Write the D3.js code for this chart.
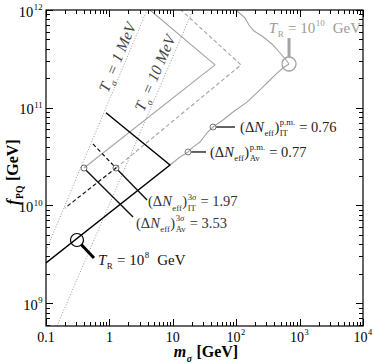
<!DOCTYPE html>
<html>
<head>
<meta charset="utf-8">
<script src="https://cdn.jsdelivr.net/npm/d3@7"></script>
<style>
  body { margin: 0; background: #fff; }
  svg { display: block; }
  text { font-family: "Liberation Serif", "DejaVu Serif", serif; }
</style>
</head>
<body>
<script>
// ---- data: [m_sigma (GeV), f_PQ (GeV)] ----
const xDomain = [0.1, 1e4];
const yDomain = [5.82e8, 1e12];
const xMajor = [0.1, 1, 10, 100, 1000, 10000];
const xMajorLabels = ['0.1', '1', '10', '10^2', '10^3', '10^4'];
const yMajor = [1e9, 1e10, 1e11, 1e12];
const yMajorLabels = ['10^9', '10^10', '10^11', '10^12'];

const tSigma1MeV = [[0.1, 3.45e9], [3.92, 1e12]];
const tSigma10MeV = [[0.149, 5.82e8], [20.8, 1e12]];

// T_R = 1e8 GeV contours (black) and their continuation (grey)
const blackSolid = [[0.1, 2.57e9], [9.04, 2.59e10], [0.884, 8.88e10]];
const blackDashed = [[0.551, 4.25e10], [1.27, 2.41e10], [0.1995, 9.40e9]];
// T_R = 1e10 GeV
const greySolid = [[0.397, 2.41e10], [46.3, 2.74e11], [4.37, 1e12]];
const greyDashed = [[1.27, 2.41e10], [119, 2.74e11], [13.5, 1e12]];
// p.m. curve
const greyCurve = [
  [9.04, 2.59e10], [13.0, 3.13e10], [17.4, 3.52e10], [20.8, 3.95e10], [26.9, 4.46e10],
  [34.6, 5.51e10], [43.1, 6.34e10], [61.9, 7.48e10], [89.0, 9.04e10], [148, 1.14e11],
  [237, 1.52e11], [341, 1.92e11], [440, 2.26e11], [547, 2.55e11], [681, 2.80e11],
  [610, 3.08e11], [491, 3.63e11], [367, 4.49e11], [255, 5.42e11], [191, 6.09e11],
  [159, 7.02e11], [138, 8.28e11], [99.3, 1e12]
];

const pmPoints = [[17.4, 3.52e10], [43.1, 6.34e10]];
const sigmaPoints = [[0.397, 2.41e10], [1.27, 2.41e10]];
const tr8Point = [0.308, 4.42e9];
const tr10Point = [681, 2.80e11];

// leaders: [from, to]
const leaderAv3 = [[0.397, 2.41e10], [2.36, 7.61e9]];
const leaderIT3 = [[1.27, 2.41e10], [3.92, 1.135e10]];
const leaderAvPm = [[17.4, 3.52e10], [33.4, 3.52e10]];
const leaderITPm = [[43.1, 6.34e10], [95.7, 6.34e10]];
const leaderTr8 = [tr8Point, [0.571, 2.89e9]];
const leaderTr10 = [tr10Point, [681, 5.16e11]];

const grey = '#a3a3a3';

const svg = d3.select('body').append('svg').attr('width', 374).attr('height', 363);

const x = d3.scaleLog().domain(xDomain).range([46, 363]);
const y = d3.scaleLog().domain(yDomain).range([326, 10]);

svg.append('defs').append('clipPath').attr('id', 'plot')
  .append('rect').attr('x', 46).attr('y', 10).attr('width', 317).attr('height', 316);

const line = d3.line().x(d => x(d[0])).y(d => y(d[1]));
const plot = svg.append('g').attr('clip-path', 'url(#plot)');

function path(data, stroke, width, dash) {
  plot.append('path')
    .attr('d', line(data))
    .attr('fill', 'none')
    .attr('stroke', stroke)
    .attr('stroke-width', width)
    .attr('stroke-linejoin', 'round')
    .attr('stroke-dasharray', dash || null);
}

path(tSigma1MeV, '#8c8c8c', 0.9, '1,1.8');
path(tSigma10MeV, '#8c8c8c', 0.9, '1,1.8');
path(greySolid, grey, 1.1);
path(greyDashed, grey, 1.1, '4,2.5');
path(greyCurve, grey, 1.1);
path(blackDashed, '#111', 1.2, '4,2.5');
path(blackSolid, '#000', 1.5);

// leaders start at the circle edge
function leader(seg, r, stroke, width) {
  const x0 = x(seg[0][0]), y0 = y(seg[0][1]);
  const x1 = x(seg[1][0]), y1 = y(seg[1][1]);
  const len = Math.hypot(x1 - x0, y1 - y0);
  plot.append('line')
    .attr('x1', x0 + (x1 - x0) / len * r).attr('y1', y0 + (y1 - y0) / len * r)
    .attr('x2', x1).attr('y2', y1)
    .attr('stroke', stroke).attr('stroke-width', width);
}
leader(leaderAv3, 3, '#111', 1.4);
leader(leaderIT3, 3, '#111', 1.4);
leader(leaderAvPm, 3, '#111', 1.3);
leader(leaderITPm, 3, '#111', 1.3);
leader(leaderTr8, 6.5, '#000', 3);
leader(leaderTr10, 7, grey, 3);

function circles(data, r, stroke, width) {
  plot.selectAll(null)
    .data(data)
    .join('circle')
      .attr('cx', d => x(d[0]))
      .attr('cy', d => y(d[1]))
      .attr('r', r)
      .attr('fill', 'none')
      .attr('stroke', stroke)
      .attr('stroke-width', width);
}
circles(pmPoints, 3, '#777', 1);
circles(sigmaPoints, 3, '#666', 1);
circles([tr8Point], 6.5, '#000', 1.2);
circles([tr10Point], 7, grey, 1.3);

// ---- math-like text ----
function runItems(g, items, x0, y0, size, bold) {
  let cx = x0;
  for (const it of items) {
    if (it.t !== undefined) {
      const t = g.append('text')
        .attr('x', cx).attr('y', y0)
        .attr('font-size', size)
        .attr('font-style', it.i ? 'italic' : 'normal')
        .attr('font-weight', bold ? 'bold' : 'normal')
        .style('white-space', 'pre')
        .text(it.t);
      cx += t.node().getComputedTextLength();
    } else {
      const s = size * 0.6;
      let w1 = 0, w2 = 0;
      if (it.sup) w1 = runItems(g, it.sup, cx + 0.5, y0 - size * 0.44, s, bold) - cx;
      if (it.sub) w2 = runItems(g, it.sub, cx + 0.5, y0 + size * 0.28, s, bold) - cx;
      cx += Math.max(w1, w2) + 0.5;
    }
  }
  return cx;
}

// anchor: 0 left, 0.5 middle, 1 right; text vertically centred on py
function mathLabel(parent, items, px, py, size, opts = {}) {
  const outer = parent.append('g')
    .attr('transform', `translate(${px},${py}) rotate(${opts.rotate || 0})`)
    .attr('fill', opts.fill || '#000');
  const inner = outer.append('g');
  const w = runItems(inner, items, 0, 0, size, opts.bold);
  inner.attr('transform', `translate(${-w * (opts.anchor || 0)},${size * 0.33})`);
  return outer;
}

function powerItems(s) {
  const [b, e] = s.split('^');
  return e ? [{ t: b }, { sup: [{ t: e }] }] : [{ t: b }];
}

// ---- frame and ticks ----
svg.append('rect').attr('x', 46).attr('y', 10).attr('width', 317).attr('height', 316)
  .attr('fill', 'none').attr('stroke', '#000').attr('stroke-width', 1.2);

const isMajor = v => Math.abs(Math.log10(v) - Math.round(Math.log10(v))) < 1e-6;
const ticks = svg.append('g').attr('stroke', '#000').attr('stroke-width', 1);
x.ticks().forEach(v => {
  const px = Math.round(x(v)) + 0.5;
  const len = isMajor(v) ? 7 : 4;
  ticks.append('line').attr('x1', px).attr('x2', px).attr('y1', 326).attr('y2', 326 - len);
  ticks.append('line').attr('x1', px).attr('x2', px).attr('y1', 10).attr('y2', 10 + len);
});
y.ticks().forEach(v => {
  const py = Math.round(y(v)) + 0.5;
  const len = isMajor(v) ? 7 : 4;
  ticks.append('line').attr('y1', py).attr('y2', py).attr('x1', 46).attr('x2', 46 + len);
  ticks.append('line').attr('y1', py).attr('y2', py).attr('x1', 363).attr('x2', 363 - len);
});

xMajor.forEach((v, i) => {
  mathLabel(svg, powerItems(xMajorLabels[i]), x(v), 337, 14, { anchor: 0.5 });
});
yMajor.forEach((v, i) => {
  mathLabel(svg, powerItems(yMajorLabels[i]), 43, y(v) + 2, 14.5, { anchor: 1 });
});

// axis titles
mathLabel(svg, [{ t: 'm', i: 1 }, { sub: [{ t: 'σ', i: 1 }] }, { t: ' [GeV]' }],
  206, 352, 16, { anchor: 0.5, bold: true });
mathLabel(svg, [{ t: 'f', i: 1 }, { sub: [{ t: 'PQ' }] }, { t: ' [GeV]' }],
  13, 172, 16, { anchor: 0.5, bold: true, rotate: -90 });

// ---- annotations ----
const lineAngle = seg => Math.atan2(y(seg[1][1]) - y(seg[0][1]), x(seg[1][0]) - x(seg[0][0])) * 180 / Math.PI;

mathLabel(svg, [{ t: 'T', i: 1 }, { sub: [{ t: 'σ', i: 1 }] }, { t: ' = 1 MeV', i: 1 }],
  x(1.34), y(3.27e11), 15.5, { anchor: 0.5, rotate: lineAngle(tSigma1MeV), fill: '#444' });
mathLabel(svg, [{ t: 'T', i: 1 }, { sub: [{ t: 'σ', i: 1 }] }, { t: ' = 10 MeV', i: 1 }],
  x(5.24), y(2.26e11), 15.5, { anchor: 0.5, rotate: lineAngle(tSigma10MeV), fill: '#444' });

mathLabel(svg, [{ t: 'T', i: 1 }, { sub: [{ t: 'R' }] }, { t: ' = 10' }, { sup: [{ t: '8' }] }, { t: '  GeV' }],
  x(0.66), y(2.75e9), 15, { fill: '#111' });
mathLabel(svg, [{ t: 'T', i: 1 }, { sub: [{ t: 'R' }] }, { t: ' = 10' }, { sup: [{ t: '10' }] }, { t: '  GeV' }],
  361, y(6.55e11), 15, { anchor: 1, fill: '#9a9a9a' });

function dnLabel(sup, sub, val) {
  return [{ t: '(Δ' }, { t: 'N', i: 1 }, { sub: [{ t: 'eff' }] }, { t: ')' },
    { sup: sup, sub: [{ t: sub }] }, { t: ' = ' + val }];
}
const sig = [{ t: '3' }, { t: 'σ', i: 1 }];
const pm = [{ t: 'p.m.' }];

mathLabel(svg, dnLabel(pm, 'IT', '0.76'), x(115), y(6.34e10), 14.5, { fill: '#222' });
mathLabel(svg, dnLabel(pm, 'Av', '0.77'), x(38.6), y(3.52e10), 14.5, { fill: '#222' });
mathLabel(svg, dnLabel(sig, 'IT', '1.97'), x(4.06), y(1.09e10), 14.5, { fill: '#333' });
mathLabel(svg, dnLabel(sig, 'Av', '3.53'), x(2.63), y(6.6e9), 14.5, { fill: '#333' });
</script>
</body>
</html>
